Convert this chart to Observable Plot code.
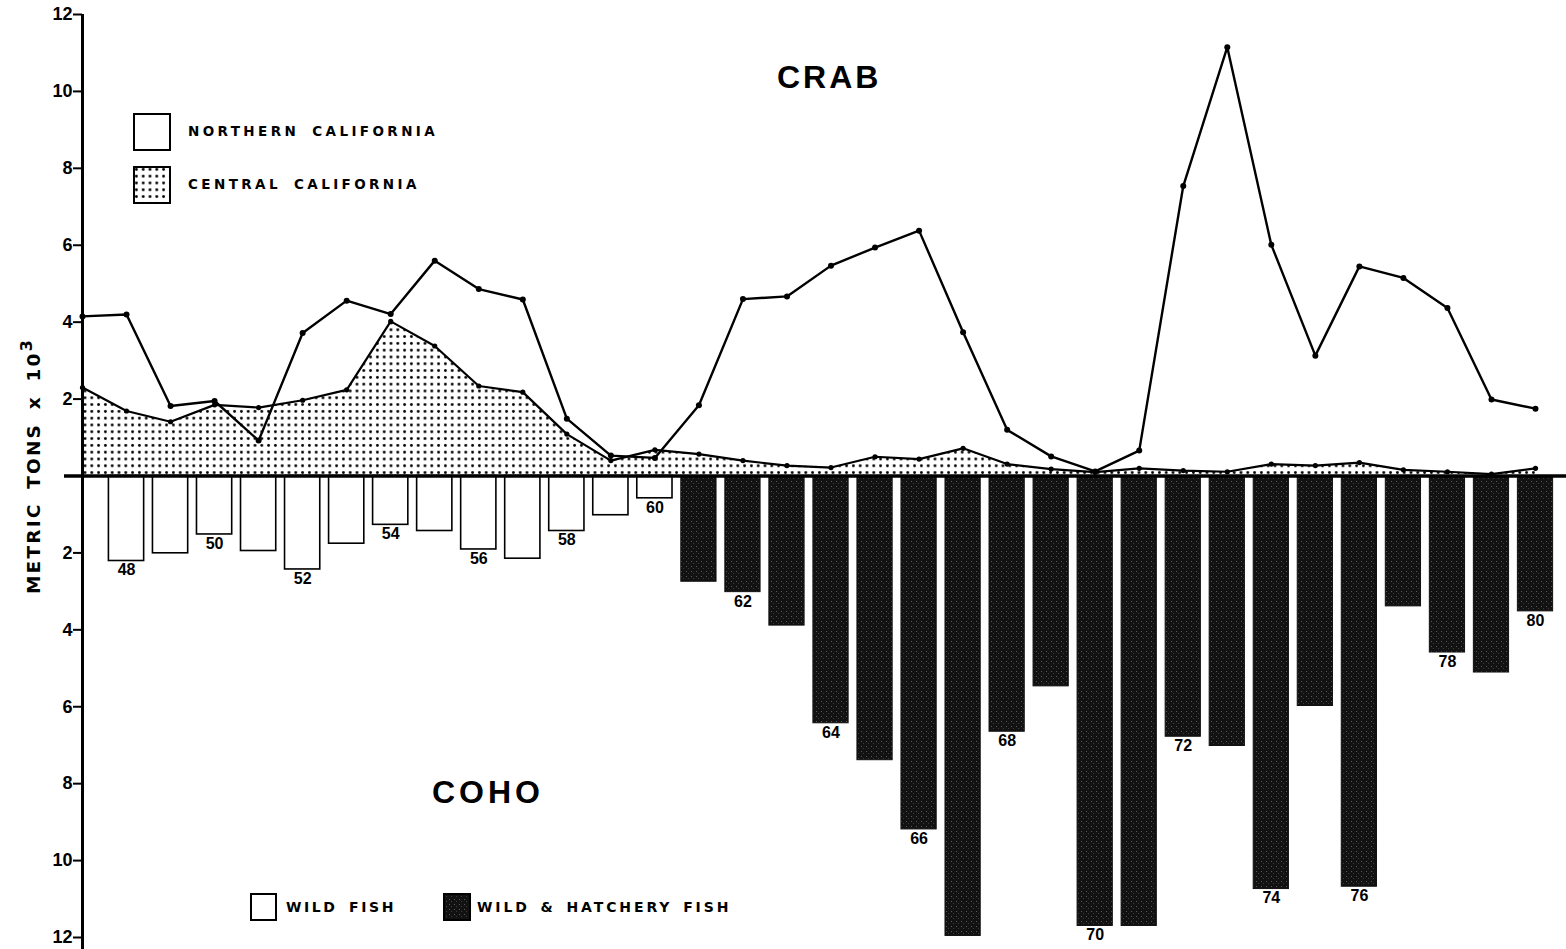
<!DOCTYPE html>
<html>
<head>
<meta charset="utf-8">
<script src="https://cdn.jsdelivr.net/npm/d3@7"></script>
<script src="https://cdn.jsdelivr.net/npm/@observablehq/plot@0.6"></script>
<style>
  html, body { margin: 0; padding: 0; background: white; }
  #wrap { position: relative; width: 1566px; height: 949px; font-family: "Liberation Sans", Arial, sans-serif; font-weight: bold; color: black; overflow: hidden; }
  #wrap svg.main { position: absolute; left: 0; top: 0; }
  .ov { position: absolute; white-space: pre; line-height: 1; }
  .dj { font-family: "DejaVu Sans", "Liberation Sans", sans-serif; }
  .sw { position: absolute; }
</style>
</head>
<body>
<div id="wrap"></div>
<script>
// ---- Data ----
const crabYears = [1947,1948,1949,1950,1951,1952,1953,1954,1955,1956,1957,1958,1959,1960,1961,1962,1963,1964,1965,1966,1967,1968,1969,1970,1971,1972,1973,1974,1975,1976,1977,1978,1979,1980];
// Crab landings, metric tons x 10^3
const crabNorthern = [4.15,4.2,1.82,1.95,0.92,3.72,4.56,4.21,5.6,4.86,4.59,1.49,0.53,0.47,1.84,4.6,4.67,5.47,5.94,6.38,3.74,1.2,0.51,0.12,0.66,7.54,11.15,6.01,3.13,5.45,5.15,4.37,1.99,1.75];
const crabCentral  = [2.3,1.69,1.41,1.85,1.78,1.97,2.24,4.02,3.38,2.34,2.18,1.09,0.4,0.68,0.57,0.4,0.27,0.22,0.5,0.44,0.72,0.31,0.18,0.1,0.2,0.14,0.11,0.31,0.27,0.35,0.16,0.11,0.05,0.2];

const cohoYears = [1948,1949,1950,1951,1952,1953,1954,1955,1956,1957,1958,1959,1960,1961,1962,1963,1964,1965,1966,1967,1968,1969,1970,1971,1972,1973,1974,1975,1976,1977,1978,1979,1980];
// Coho landings, metric tons x 10^3
const cohoValues = [2.21,2.01,1.52,1.95,2.43,1.76,1.27,1.43,1.91,2.15,1.43,1.02,0.58,2.75,3.02,3.89,6.43,7.39,9.19,11.96,6.65,5.47,11.7,11.7,6.78,7.02,10.74,5.98,10.68,3.39,4.59,5.11,3.52];
const cohoSource = ["wild","wild","wild","wild","wild","wild","wild","wild","wild","wild","wild","wild","wild",
  "hatchery","hatchery","hatchery","hatchery","hatchery","hatchery","hatchery","hatchery","hatchery","hatchery",
  "hatchery","hatchery","hatchery","hatchery","hatchery","hatchery","hatchery","hatchery","hatchery","hatchery"];
const labelYears = [1948,1950,1952,1954,1956,1958,1960,1962,1964,1966,1968,1970,1972,1974,1976,1978,1980];
const yTicks = [12,10,8,6,4,2,-2,-4,-6,-8,-10,-12];

// ---- Tables ----
const crab = crabYears.map((year, i) => ({year, north: crabNorthern[i], central: crabCentral[i]}));
const coho = cohoYears.map((year, i) => ({year, value: cohoValues[i], source: cohoSource[i]}));
const cohoLabels = coho.filter(d => labelYears.includes(d.year));

const font = "Liberation Sans, Arial, sans-serif";

const svg = Plot.plot({
  width: 1566,
  height: 949,
  marginLeft: 82,
  marginRight: 0,
  marginTop: 0,
  marginBottom: 0,
  x: {domain: [1947, 1980], range: [82, 1535], axis: null},
  y: {domain: [-12, 12], range: [937, 14]},
  style: {fontFamily: font, color: "black", background: "white", overflow: "visible"},
  marks: [
    // central california crab (dotted area)
    Plot.areaY(crab, {x: "year", y: "central", fill: "url(#dots)"}),
    // coho bars (drawn downward)
    Plot.rectY(coho.filter(d => d.source === "wild"), {
      x1: d => d.year - 0.4, x2: d => d.year + 0.4, y1: 0, y2: d => -d.value,
      fill: "white", stroke: "black", strokeWidth: 1.6
    }),
    Plot.rectY(coho.filter(d => d.source !== "wild"), {
      x1: d => d.year - 0.4, x2: d => d.year + 0.4, y1: 0, y2: d => -d.value,
      fill: "url(#dark)", stroke: "#111", strokeWidth: 1
    }),
    Plot.text(cohoLabels, {
      x: "year", y: d => -d.value, text: d => String(d.year % 100).padStart(2, "0"),
      lineAnchor: "top", dy: 3, fontSize: 16, fontWeight: "bold", fill: "black"
    }),
    // central line
    Plot.line(crab, {x: "year", y: "central", stroke: "black", strokeWidth: 2.2}),
    Plot.dot(crab, {x: "year", y: "central", r: 2.6, fill: "black", stroke: "none"}),
    // northern california crab
    Plot.line(crab, {x: "year", y: "north", stroke: "black", strokeWidth: 2.4}),
    Plot.dot(crab, {x: "year", y: "north", r: 3, fill: "black", stroke: "none"}),
    // zero line and axis line
    Plot.ruleY([0], {stroke: "black", strokeWidth: 3.5, insetLeft: -18}),
    Plot.ruleX([1947], {y1: 12, y2: -12, stroke: "black", strokeWidth: 3, insetBottom: -12}),
    Plot.axisY({
      ticks: yTicks, tickFormat: d => Math.abs(d), tickSize: 9, tickPadding: 1,
      fontSize: 18, fontWeight: "bold", label: null, strokeWidth: 2
    })
  ]
});
svg.classList.add("main");

d3.select(svg).insert("defs", ":first-child").html(`
  <pattern id="dots" width="6.8" height="6.8" patternUnits="userSpaceOnUse">
    <rect width="6.8" height="6.8" fill="white"/>
    <circle cx="3.4" cy="3.4" r="1.45" fill="black"/>
  </pattern>
  <pattern id="dark" width="5" height="5" patternUnits="userSpaceOnUse">
    <rect width="5" height="5" fill="#121212"/>
    <rect x="1" y="1" width="1" height="1" fill="#5a5a5a"/>
    <rect x="3" y="3" width="1" height="1" fill="#3c3c3c"/>
  </pattern>
`);

const wrap = document.getElementById("wrap");
wrap.appendChild(svg);

function addText(txt, left, cy, size, spacing, extra = "", cls = "") {
  const el = document.createElement("div");
  el.className = "ov " + cls;
  el.innerHTML = txt;
  el.style.cssText += `left:${left}px;top:${cy}px;font-size:${size}px;letter-spacing:${spacing}px;transform:translateY(-50%);${extra}`;
  wrap.appendChild(el);
  return el;
}
function addSwatch(left, top, w, h, kind) {
  const ns = "http://www.w3.org/2000/svg";
  const s = document.createElementNS(ns, "svg");
  s.setAttribute("class", "sw");
  s.setAttribute("width", w); s.setAttribute("height", h);
  s.style.left = left + "px"; s.style.top = top + "px";
  const id = "sw" + Math.round(left) + "_" + Math.round(top);
  let fill = "white";
  if (kind === "dots") {
    s.innerHTML = `<defs><pattern id="${id}" width="6.8" height="6.8" patternUnits="userSpaceOnUse"><rect width="6.8" height="6.8" fill="white"/><circle cx="3.4" cy="3.4" r="1.45" fill="black"/></pattern></defs>`;
    fill = `url(#${id})`;
  } else if (kind === "dark") {
    s.innerHTML = `<defs><pattern id="${id}" width="5" height="5" patternUnits="userSpaceOnUse"><rect width="5" height="5" fill="#121212"/><rect x="1" y="1" width="1" height="1" fill="#5a5a5a"/><rect x="3" y="3" width="1" height="1" fill="#3c3c3c"/></pattern></defs>`;
    fill = `url(#${id})`;
  }
  s.innerHTML += `<rect x="1" y="1" width="${w-2}" height="${h-2}" fill="${fill}" stroke="black" stroke-width="2"/>`;
  wrap.appendChild(s);
}

// Titles
addText("CRAB", 777, 77, 32, 3);
addText("COHO", 432, 792, 32, 4);

// Crab legend
addSwatch(133, 113, 38, 38, "white");
addText("NORTHERN CALIFORNIA", 188, 132, 13.5, 3.4, "word-spacing:5px;", "dj");
addSwatch(133, 166, 38, 38, "dots");
addText("CENTRAL CALIFORNIA", 188, 185, 13.5, 3.4, "word-spacing:5px;", "dj");

// Coho legend
addSwatch(250, 893, 27, 28, "white");
addText("WILD FISH", 286, 907, 14, 2.6, "word-spacing:4px;", "dj");
addSwatch(443, 893, 28, 28, "dark");
addText("WILD & HATCHERY FISH", 477, 907, 14, 2.9, "word-spacing:3px;", "dj");

// Y-axis label
addText("METRIC TONS x 10<sup style=\"font-size:16px;vertical-align:8px;\">3</sup>", 31, 466, 18.5, 2.2,
  "word-spacing:5px;transform:translate(-50%,-50%) rotate(-90deg);", "dj");
</script>
</body>
</html>
